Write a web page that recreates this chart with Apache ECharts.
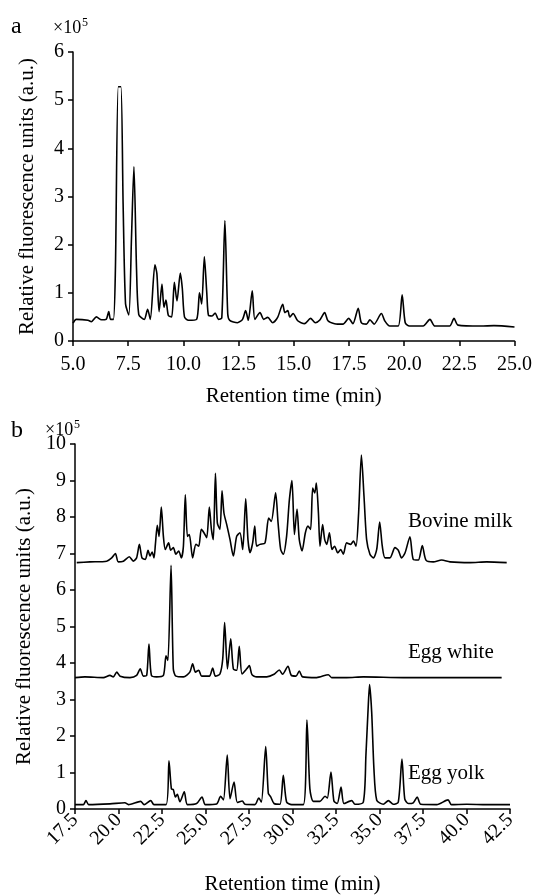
<!DOCTYPE html>
<html>
<head>
<meta charset="utf-8">
<script src="https://cdn.jsdelivr.net/npm/echarts@6/dist/echarts.min.js"></script>
<style>
  html, body { margin: 0; padding: 0; background: #fff; }
  #chart { width: 535px; height: 896px; }
</style>
</head>
<body>
<div id="chart"></div>
<script>
// panel a: retention time (min), fluorescence (x10^5)
var traceA = [
  [5.0, 0.37], [5.15, 0.45], [5.68, 0.43], [5.83, 0.40], [6.06, 0.50], [6.29, 0.44],
  [6.5, 0.45], [6.62, 0.61], [6.7, 0.45], [6.83, 0.45], [6.92, 1.46], [7.05, 5.28],
  [7.17, 5.28], [7.27, 2.85], [7.38, 0.77], [7.53, 0.54], [7.65, 2.15], [7.76, 3.62],
  [7.88, 1.46], [7.98, 0.55], [8.23, 0.45], [8.38, 0.66], [8.5, 0.45], [8.71, 1.58],
  [8.8, 1.40], [8.9, 0.61], [9.03, 1.18], [9.12, 0.70], [9.21, 0.85], [9.32, 0.53],
  [9.47, 0.50], [9.59, 1.22], [9.71, 0.83], [9.86, 1.41], [9.95, 1.10], [10.05, 0.50],
  [10.23, 0.43], [10.6, 0.45], [10.73, 1.00], [10.83, 0.77], [10.95, 1.75], [11.06, 1.00],
  [11.14, 0.53], [11.3, 0.52], [11.44, 0.58], [11.59, 0.45], [11.74, 0.48], [11.88, 2.50],
  [12.01, 0.56], [12.1, 0.43], [12.45, 0.38], [12.68, 0.45], [12.82, 0.63], [12.94, 0.43],
  [13.12, 1.04], [13.24, 0.45], [13.47, 0.59], [13.64, 0.45], [13.82, 0.49], [14.05, 0.38],
  [14.27, 0.49], [14.5, 0.76], [14.6, 0.59], [14.73, 0.63], [14.82, 0.50], [14.97, 0.57],
  [15.18, 0.42], [15.49, 0.36], [15.76, 0.47], [15.98, 0.38], [16.17, 0.43], [16.4, 0.59],
  [16.55, 0.42], [16.85, 0.36], [17.23, 0.35], [17.49, 0.47], [17.68, 0.36], [17.92, 0.68],
  [18.06, 0.38], [18.29, 0.35], [18.45, 0.44], [18.64, 0.35], [18.97, 0.57], [19.12, 0.42],
  [19.35, 0.31], [19.73, 0.31], [19.91, 0.96], [20.05, 0.38], [20.24, 0.31], [20.86, 0.31],
  [21.17, 0.45], [21.39, 0.31], [22.06, 0.31], [22.26, 0.47], [22.44, 0.33], [23.47, 0.31],
  [24.07, 0.32], [25.0, 0.29]
];

// panel b: three samples, offset baselines
var traceMilk = [
  [17.6, 6.75], [18.36, 6.77], [19.32, 6.79], [19.61, 6.88], [19.82, 7.0], [19.99, 6.77],
  [20.28, 6.79], [20.62, 6.91], [20.85, 6.79], [21.04, 6.88], [21.2, 7.25], [21.35, 6.88],
  [21.54, 6.84], [21.7, 7.09], [21.81, 6.93], [21.93, 7.04], [22.04, 6.88], [22.12, 7.25],
  [22.23, 7.77], [22.33, 7.47], [22.46, 8.27], [22.58, 7.47], [22.69, 7.11], [22.88, 7.29],
  [23.0, 7.09], [23.15, 7.16], [23.3, 6.98], [23.46, 7.07], [23.61, 6.88], [23.73, 7.2],
  [23.84, 8.61], [23.96, 7.47], [24.07, 7.52], [24.26, 6.88], [24.45, 7.25], [24.61, 7.2],
  [24.76, 7.66], [24.91, 7.57], [25.07, 7.43], [25.22, 8.27], [25.34, 7.66], [25.45, 7.38],
  [25.57, 9.2], [25.68, 7.84], [25.83, 7.66], [25.95, 8.72], [26.06, 8.11], [26.22, 7.79],
  [26.41, 7.38], [26.6, 6.93], [26.79, 7.47], [26.98, 7.57], [27.14, 7.11], [27.31, 8.5],
  [27.44, 7.38], [27.56, 7.02], [27.71, 7.29], [27.83, 7.75], [27.94, 7.2], [28.13, 7.25],
  [28.42, 7.29], [28.63, 7.97], [28.78, 7.88], [29.03, 8.66], [29.17, 7.84], [29.32, 7.11],
  [29.47, 6.98], [29.66, 7.47], [29.82, 8.47], [29.97, 9.0], [30.11, 7.52], [30.26, 8.22],
  [30.39, 7.38], [30.55, 7.07], [30.74, 7.57], [30.89, 7.75], [31.04, 7.66], [31.16, 8.79],
  [31.28, 8.66], [31.37, 8.93], [31.49, 8.11], [31.58, 7.2], [31.73, 7.79], [31.85, 7.38],
  [31.97, 7.25], [32.12, 7.57], [32.27, 7.11], [32.42, 7.2], [32.6, 7.02], [32.77, 7.11],
  [32.92, 6.98], [33.11, 7.29], [33.34, 7.25], [33.5, 7.34], [33.65, 7.2], [33.8, 8.11],
  [33.96, 9.7], [34.11, 8.56], [34.26, 7.38], [34.45, 6.98], [34.65, 6.88], [34.84, 7.11],
  [35.01, 7.86], [35.16, 7.2], [35.32, 6.88], [35.6, 6.88], [35.89, 7.16], [36.08, 7.09],
  [36.27, 6.88], [36.47, 7.02], [36.75, 7.46], [36.94, 6.84], [37.23, 6.82], [37.46, 7.22],
  [37.67, 6.82], [38.09, 6.77], [38.57, 6.82], [39.05, 6.77], [40.2, 6.75], [41.16, 6.77],
  [42.31, 6.75]
];

var traceWhite = [
  [17.5, 3.6], [18.07, 3.62], [19.13, 3.6], [19.51, 3.66], [19.7, 3.62], [19.9, 3.75],
  [20.09, 3.64], [20.66, 3.6], [21.04, 3.66], [21.25, 3.84], [21.43, 3.64], [21.62, 3.66],
  [21.75, 4.52], [21.89, 3.66], [22.19, 3.62], [22.58, 3.66], [22.73, 4.2], [22.84, 4.07],
  [23.02, 6.68], [23.15, 3.84], [23.3, 3.64], [23.73, 3.62], [24.1, 3.75], [24.26, 3.98],
  [24.42, 3.75], [24.61, 3.8], [24.78, 3.64], [25.22, 3.64], [25.41, 3.86], [25.57, 3.64],
  [25.83, 3.7], [25.99, 4.11], [26.1, 5.11], [26.26, 3.84], [26.45, 4.66], [26.6, 3.84],
  [26.79, 3.8], [26.94, 4.46], [27.1, 3.7], [27.37, 3.84], [27.52, 3.93], [27.67, 3.68],
  [27.94, 3.62], [28.52, 3.62], [28.94, 3.69], [29.24, 3.81], [29.43, 3.69], [29.74, 3.91],
  [29.93, 3.66], [30.2, 3.64], [30.39, 3.78], [30.58, 3.62], [31.39, 3.6], [32.06, 3.68],
  [32.25, 3.6], [33.11, 3.6], [34.07, 3.62], [36.37, 3.6], [42.02, 3.6]
];

var traceYolk = [
  [17.5, 0.12], [17.98, 0.12], [18.13, 0.23], [18.29, 0.12], [19.51, 0.14], [20.37, 0.17],
  [20.57, 0.12], [21.27, 0.21], [21.47, 0.12], [21.85, 0.23], [22.04, 0.12], [22.73, 0.12],
  [22.9, 1.32], [23.04, 0.55], [23.15, 0.53], [23.27, 0.33], [23.38, 0.4], [23.53, 0.2],
  [23.78, 0.47], [23.96, 0.12], [24.49, 0.15], [24.8, 0.33], [24.99, 0.12], [25.64, 0.14],
  [25.87, 0.35], [26.03, 0.25], [26.25, 1.48], [26.41, 0.28], [26.64, 0.74], [26.83, 0.18],
  [27.12, 0.22], [27.27, 0.13], [27.84, 0.12], [28.06, 0.3], [28.21, 0.19], [28.46, 1.71],
  [28.61, 0.43], [28.74, 0.34], [28.94, 0.15], [29.28, 0.13], [29.47, 0.92], [29.66, 0.19],
  [29.95, 0.12], [30.62, 0.12], [30.83, 2.44], [31.0, 0.55], [31.2, 0.21], [31.58, 0.21],
  [31.87, 0.35], [32.0, 0.3], [32.21, 1.01], [32.38, 0.22], [32.57, 0.15], [32.79, 0.6],
  [32.96, 0.15], [33.4, 0.23], [33.59, 0.13], [34.07, 0.19], [34.22, 1.48], [34.36, 2.89],
  [34.43, 3.41], [34.55, 2.66], [34.68, 1.1], [34.84, 0.24], [35.22, 0.13], [35.51, 0.23],
  [35.79, 0.13], [36.08, 0.19], [36.29, 1.37], [36.45, 0.28], [36.66, 0.15], [36.94, 0.17],
  [37.17, 0.33], [37.37, 0.13], [38.29, 0.12], [38.94, 0.25], [39.13, 0.12], [40.01, 0.13],
  [41.16, 0.12], [42.5, 0.12]
];

var sampleNames = ["Bovine milk", "Egg white", "Egg yolk"];

var chart = echarts.init(document.getElementById("chart"));
var font = "Liberation Serif";
var black = "#000";

var axisText = { color: black, fontFamily: font, fontSize: 20 };

function xAxisBase(min, max, gridIndex) {
  return {
    type: "value", gridIndex: gridIndex, min: min, max: max, interval: 2.5,
    axisLine: { show: true, onZero: false, lineStyle: { color: black, width: 1.5 } },
    axisTick: { show: true, length: 5, lineStyle: { color: black, width: 1.5 } },
    splitLine: { show: false },
    name: "Retention time (min)", nameLocation: "middle",
    nameTextStyle: { color: black, fontFamily: font, fontSize: 21 }
  };
}

function yAxisBase(max, gridIndex) {
  return {
    type: "value", gridIndex: gridIndex, min: 0, max: max, interval: 1,
    axisLine: { show: true, lineStyle: { color: black, width: 1.5 } },
    axisTick: { show: true, length: 5, lineStyle: { color: black, width: 1.5 } },
    splitLine: { show: false },
    axisLabel: Object.assign({ margin: 9 }, axisText),
    name: "Relative fluorescence units (a.u.)", nameLocation: "middle", nameGap: 35,
    nameTextStyle: { color: black, fontFamily: font, fontSize: 21 }
  };
}

var xa = xAxisBase(5, 25, 0);
xa.nameGap = 45;
xa.axisLabel = Object.assign({ margin: 14, formatter: function (v) { return v.toFixed(1); } }, axisText);

var xb = xAxisBase(17.5, 42.5, 1);
xb.nameGap = 65;
xb.axisLabel = Object.assign({ margin: 8, rotate: 45, formatter: function (v) { return v.toFixed(1); } }, axisText);

function lineSeries(data, axisIndex) {
  return {
    type: "line", data: data, xAxisIndex: axisIndex, yAxisIndex: axisIndex,
    showSymbol: false, smooth: 0.25, animation: false,
    lineStyle: { color: black, width: 1.6 }
  };
}

var option = {
  backgroundColor: "#fff",
  animation: false,
  grid: [
    { left: 73, right: 19, top: 52, bottom: 555 },
    { left: 75, right: 25, top: 444, bottom: 85 }
  ],
  xAxis: [xa, xb],
  yAxis: [yAxisBase(6, 0), yAxisBase(10, 1)],
  series: [
    lineSeries(traceA, 0),
    lineSeries(traceMilk, 1),
    lineSeries(traceWhite, 1),
    lineSeries(traceYolk, 1)
  ],
  graphic: [
    { type: "text", left: 11, top: 15, style: { text: "a", fill: black, font: "24px " + font } },
    { type: "text", left: 53, top: 19, style: { text: "×10", fill: black, font: "18px " + font } },
    { type: "text", left: 82, top: 17, style: { text: "5", fill: black, font: "12px " + font } },
    { type: "text", left: 11, top: 419, style: { text: "b", fill: black, font: "24px " + font } },
    { type: "text", left: 45, top: 421, style: { text: "×10", fill: black, font: "18px " + font } },
    { type: "text", left: 74, top: 419, style: { text: "5", fill: black, font: "12px " + font } },
    { type: "text", left: 408, top: 511, style: { text: sampleNames[0], fill: black, font: "21px " + font } },
    { type: "text", left: 408, top: 642, style: { text: sampleNames[1], fill: black, font: "21px " + font } },
    { type: "text", left: 408, top: 763, style: { text: sampleNames[2], fill: black, font: "21px " + font } }
  ]
};

chart.setOption(option);
</script>
</body>
</html>
